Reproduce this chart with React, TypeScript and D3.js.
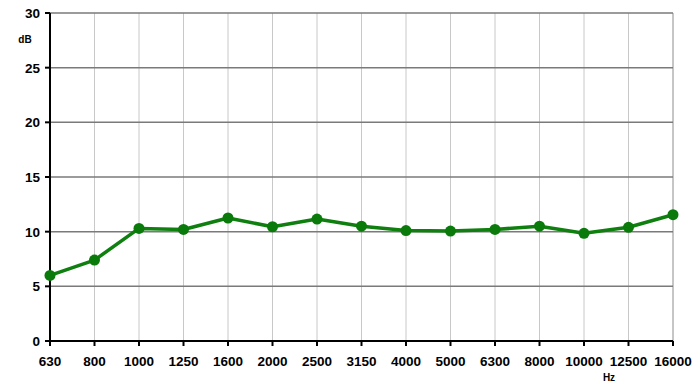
import * as d3 from 'd3'

const freqs = ['630', '800', '1000', '1250', '1600', '2000', '2500', '3150', '4000', '5000', '6300', '8000', '10000', '12500', '16000']
const levels = [6.0, 7.4, 10.3, 10.2, 11.25, 10.45, 11.15, 10.5, 10.1, 10.05, 10.2, 10.5, 9.85, 10.4, 11.55]
const yTicks = [0, 5, 10, 15, 20, 25, 30]

const W = 700
const H = 384
const margin = { top: 13, right: 27, bottom: 43, left: 50 }
const font = '"Liberation Sans", Arial, sans-serif'

export default function App() {
  const iw = W - margin.left - margin.right
  const ih = H - margin.top - margin.bottom

  const x = d3.scalePoint<string>().domain(freqs).range([0, iw])
  const y = d3.scaleLinear().domain([0, 30]).range([ih, 0])

  const line = d3.line<number>()
    .x((_, i) => x(freqs[i]) ?? 0)
    .y(d => y(d))

  return (
    <svg width={W} height={H} style={{ position: 'fixed', left: 0, top: 0, background: '#fff' }}>
      <g transform={`translate(${margin.left},${margin.top})`}>
        {/* vertical grid */}
        {freqs.slice(1).map(f => (
          <line key={'v' + f} x1={x(f)} x2={x(f)} y1={0} y2={ih} stroke={f === '16000' ? '#8c8c8c' : '#c8c8c8'} strokeWidth={1} />
        ))}
        {/* horizontal grid */}
        {yTicks.slice(1).map(t => (
          <line key={'h' + t} x1={0} x2={iw} y1={y(t)} y2={y(t)} stroke="#7a7a7a" strokeWidth={1.5} />
        ))}
        {/* axes */}
        <line x1={0} x2={0} y1={0} y2={ih} stroke="#000" strokeWidth={2} />
        <line x1={0} x2={iw} y1={ih} y2={ih} stroke="#000" strokeWidth={2} />
        {yTicks.map(t => (
          <g key={'yt' + t}>
            <line x1={-5} x2={0} y1={y(t)} y2={y(t)} stroke="#000" strokeWidth={2} />
            <text x={-10} y={y(t)} dy="0.36em" textAnchor="end" fontFamily={font} fontWeight="bold" fontSize={13.5} fill="#000">{t}</text>
          </g>
        ))}
        {freqs.map(f => (
          <g key={'xt' + f}>
            <line x1={x(f)} x2={x(f)} y1={ih} y2={ih + 5} stroke="#000" strokeWidth={2} />
            <text x={x(f)} y={ih + 25} textAnchor="middle" fontFamily={font} fontWeight="bold" fontSize={13.5} fill="#000">{f}</text>
          </g>
        ))}
        <text x={-25} y={30} textAnchor="middle" fontFamily={font} fontWeight="bold" fontSize={10} fill="#000">dB</text>
        <text x={559} y={368} textAnchor="middle" fontFamily={font} fontWeight="bold" fontSize={10} fill="#000">Hz</text>

        <path d={line(levels) ?? ''} fill="none" stroke="#0f7f0f" strokeWidth={3.5} strokeLinejoin="round" />
        {levels.map((v, i) => (
          <circle key={'p' + i} cx={x(freqs[i])} cy={y(v)} r={5.5} fill="#0a7a0a" />
        ))}
      </g>
    </svg>
  )
}
